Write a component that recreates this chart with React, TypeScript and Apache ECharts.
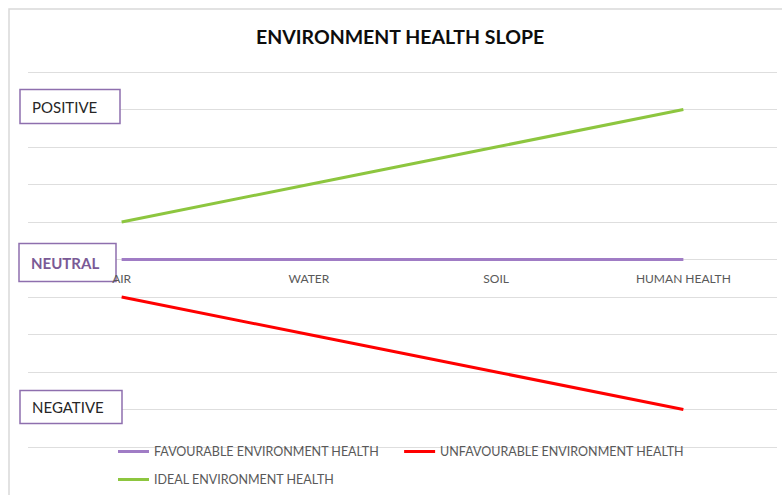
import React, { useEffect, useRef } from "react";
import * as echarts from "echarts";

const categories = ["AIR", "WATER", "SOIL", "HUMAN HEALTH"];
const favourable = [0, 0, 0, 0];
const unfavourable = [-1, -2, -3, -4];
const ideal = [1, 2, 3, 4];
const levelLabels = ["POSITIVE", "NEUTRAL", "NEGATIVE"];
const levelValues = [4, 0, -4];

const FONT = "Lato, 'Open Sans', sans-serif";

export default function App() {
  const ref = useRef<HTMLDivElement>(null);
  useEffect(() => {
    if (!ref.current) return;
    const chart = echarts.init(ref.current, null, { renderer: "svg" });
    const gridTop = 72;
    const gridBottom = 48;
    const plotH = 495 - gridTop - gridBottom;
    const yOf = (v: number) => gridTop + ((5 - v) / 10) * plotH;
    const boxes = [
      { x: 20, w: 100, h: 34, bold: false, color: "#262626" },
      { x: 19, w: 97, h: 38, bold: true, color: "#7a5a96" },
      { x: 20, w: 102, h: 33, bold: false, color: "#262626" },
    ];
    const graphics: any[] = [
      {
        type: "rect",
        shape: { x: 9, y: 9, width: 800, height: 500 },
        style: { fill: "none", stroke: "#d9d9d9", lineWidth: 1.5 },
        silent: true,
      },
    ];
    levelLabels.forEach((lab, i) => {
      const b = boxes[i];
      const cy = yOf(levelValues[i]) + (i === 1 ? 3 : -3);
      const adj = i === 2 ? 0.5 : 0;
      graphics.push({
        type: "rect",
        z: 1,
        shape: { x: b.x, y: cy - b.h / 2 + adj, width: b.w, height: b.h },
        style: { fill: "#ffffff", stroke: "#8e6fae", lineWidth: 1.5 },
      });
      graphics.push({
        type: "text",
        z: 2,
        x: b.x + 12,
        y: cy + adj,
        style: {
          text: lab,
          fill: b.color,
          font: `${b.bold ? "bold " : ""}15px ${FONT}`,
          textVerticalAlign: "middle",
          verticalAlign: "middle",
        },
      });
    });

    chart.setOption({
      animation: false,
      title: {
        text: "ENVIRONMENT HEALTH SLOPE",
        left: 251,
        top: 21,
        textStyle: { fontFamily: FONT, fontWeight: "bold", fontSize: 19.5, color: "#0d0d0d" },
      },
      grid: { left: 28, right: 5, top: gridTop, bottom: gridBottom, containLabel: false },
      legend: [
        {
          data: ["FAVOURABLE ENVIRONMENT HEALTH", "UNFAVOURABLE ENVIRONMENT HEALTH"],
          left: 113,
          top: 440,
          icon: "rect",
          itemWidth: 31,
          itemHeight: 3,
          itemGap: 25,
          textStyle: { fontFamily: FONT, fontSize: 12.5, color: "#595959" },
        },
        {
          data: ["IDEAL ENVIRONMENT HEALTH"],
          left: 113,
          top: 468,
          icon: "rect",
          itemWidth: 31,
          itemHeight: 3,
          textStyle: { fontFamily: FONT, fontSize: 12.5, color: "#595959" },
        },
      ],
      xAxis: {
        type: "category",
        data: categories,
        boundaryGap: true,
        offset: -plotH / 2,
        z: 5,
        axisLine: { show: false, onZero: false },
        axisTick: { show: false },
        axisLabel: { fontFamily: FONT, fontSize: 12, color: "#595959", margin: 13 },
      },
      yAxis: {
        type: "value",
        min: -5,
        max: 5,
        interval: 1,
        z: 0,
        axisLabel: { show: false },
        axisLine: { show: false },
        axisTick: { show: false },
        splitLine: { lineStyle: { color: "#dedede", width: 1 } },
      },
      series: [
        {
          name: "FAVOURABLE ENVIRONMENT HEALTH",
          type: "line",
          data: favourable,
          showSymbol: false,
          lineStyle: { color: "#a07cc5", width: 3 },
          itemStyle: { color: "#a07cc5" },
          z: 3,
        },
        {
          name: "UNFAVOURABLE ENVIRONMENT HEALTH",
          type: "line",
          data: unfavourable,
          showSymbol: false,
          lineStyle: { color: "#ff0000", width: 3 },
          itemStyle: { color: "#ff0000" },
          z: 3,
        },
        {
          name: "IDEAL ENVIRONMENT HEALTH",
          type: "line",
          data: ideal,
          showSymbol: false,
          lineStyle: { color: "#8dc63f", width: 3 },
          itemStyle: { color: "#8dc63f" },
          z: 3,
        },
      ],
      graphic: graphics,
    });
    return () => chart.dispose();
  }, []);
  return (
    <div
      ref={ref}
      style={{ position: "fixed", left: 0, top: 0, width: 782, height: 495, background: "#ffffff" }}
    />
  );
}
